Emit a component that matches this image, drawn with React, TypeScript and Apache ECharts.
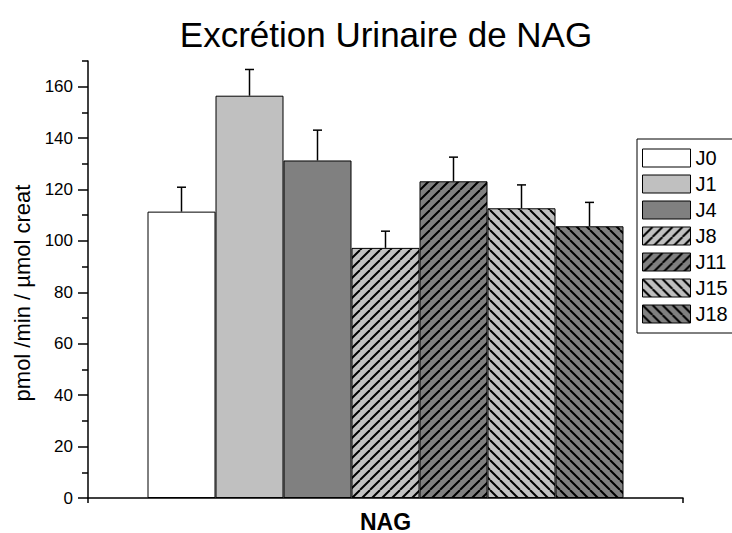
import React, { useEffect, useRef } from "react";
import * as echarts from "echarts";

const titleText = "Excrétion Urinaire de NAG";
const yAxisName = "pmol /min / µmol creat";
const categories = ["NAG"];
const seriesNames = ["J0", "J1", "J4", "J8", "J11", "J15", "J18"];
const means = [111.4, 156.5, 131.3, 97.3, 123.2, 112.7, 105.7];
const errors = [9.5, 10.2, 11.8, 6.5, 9.4, 9.1, 9.3];
const majorTicks = [0, 20, 40, 60, 80, 100, 120, 140, 160];
const minorTicks = [10, 30, 50, 70, 90, 110, 130, 150, 170];
const fillColors = ["#ffffff", "#c0c0c0", "#808080", "#c0c0c0", "#808080", "#c0c0c0", "#808080"];
const hatchDirs = ["", "", "", "/", "/", "\\", "\\"];

const FONT = '"Liberation Sans", Arial, Helvetica, sans-serif';
const CAT_GAP = 0.2;

function makeFill(bg: string, dir: string): any {
  if (!dir) return bg;
  const S = 10;
  const c = document.createElement("canvas");
  c.width = S;
  c.height = S;
  const g = c.getContext("2d")!;
  g.fillStyle = bg;
  g.fillRect(0, 0, S, S);
  g.strokeStyle = "#000";
  g.lineWidth = 2;
  g.beginPath();
  for (const k of [-S, 0, S]) {
    if (dir === "/") {
      g.moveTo(k, S);
      g.lineTo(k + S, 0);
    } else {
      g.moveTo(k, 0);
      g.lineTo(k + S, S);
    }
  }
  g.stroke();
  return { image: c.toDataURL(), imageWidth: S, imageHeight: S, repeat: "repeat" };
}

export default function App() {
  const ref = useRef<HTMLDivElement>(null);
  useEffect(() => {
    if (!ref.current) return;
    const chart = echarts.init(ref.current, null, { renderer: "svg" });
    const n = seriesNames.length;
    const barSeries = seriesNames.map((name, i) => ({
      name,
      type: "bar",
      xAxisIndex: 0,
      yAxisIndex: 0,
      barGap: "0%",
      barCategoryGap: CAT_GAP * 100 + "%",
      data: [means[i]],
      itemStyle: {
        color: makeFill(fillColors[i], hatchDirs[i]),
        borderColor: "#000",
        borderWidth: 1,
      },
      emphasis: { disabled: true },
      z: 2,
    }));
    const errData = seriesNames.map((_, i) => [0, means[i], errors[i], i]);
    const option: any = {
      animation: false,
      backgroundColor: "#ffffff",
      title: {
        text: titleText,
        left: 381,
        top: 12,
        textAlign: "center",
        textStyle: { fontFamily: FONT, fontSize: 35, fontWeight: "normal", color: "#000" },
      },
      legend: {
        orient: "vertical",
        left: 637,
        top: 139,
        data: seriesNames,
        icon: "rect",
        itemWidth: 48,
        itemHeight: 18,
        itemGap: 6,
        padding: [9, 60, 9, 5],
        borderColor: "#000",
        borderWidth: 1,
        backgroundColor: "#fff",
        itemStyle: { borderColor: "#000", borderWidth: 1 },
        textStyle: { fontFamily: FONT, fontSize: 20, color: "#000" },
        selectedMode: false,
      },
      grid: { left: 88, right: 49, top: 61, bottom: 34, containLabel: false },
      xAxis: [
        {
          type: "category",
          data: categories,
          axisLine: { lineStyle: { color: "#000", width: 1.5 } },
          axisTick: { alignWithLabel: true, length: 9, lineStyle: { color: "#000", width: 1.5 } },
          axisLabel: { fontFamily: FONT, fontSize: 23, fontWeight: "bold", color: "#000", margin: 12 },
          splitLine: { show: false },
        },
        {
          type: "value",
          min: 0,
          max: 1,
          interval: 1,
          position: "bottom",
          axisLine: { show: false },
          axisTick: { show: true, length: 5, lineStyle: { color: "#000", width: 1.5 } },
          axisLabel: { show: false },
          splitLine: { show: false },
        },
      ],
      yAxis: [
        {
          type: "value",
          min: 0,
          max: 170,
          interval: 10,
          name: yAxisName,
          nameLocation: "middle",
          nameGap: 54,
          nameTextStyle: { fontFamily: FONT, fontSize: 22, color: "#000", padding: [0, 27, 0, 0] },
          axisLine: { show: true, lineStyle: { color: "#000", width: 1.5 } },
          axisTick: { show: true, length: 10, customValues: majorTicks, lineStyle: { color: "#000", width: 1.5 } },
          axisLabel: { fontFamily: FONT, fontSize: 17, color: "#000", margin: 15, customValues: majorTicks },
          splitLine: { show: false },
        },
        {
          type: "value",
          min: 0,
          max: 170,
          interval: 10,
          position: "left",
          axisLine: { show: false },
          axisTick: { show: true, length: 6, customValues: minorTicks, lineStyle: { color: "#000", width: 1.5 } },
          axisLabel: { show: false },
          splitLine: { show: false },
        },
      ],
      series: [
        ...barSeries,
        {
          type: "custom",
          name: "err",
          xAxisIndex: 0,
          yAxisIndex: 0,
          data: errData,
          z: 5,
          silent: true,
          renderItem: (params: any, api: any) => {
            const mean = api.value(1);
            const err = api.value(2);
            const idx = api.value(3);
            const base = api.coord([0, mean]);
            const top = api.coord([0, mean + err]);
            const band = api.size([1, 0])[0];
            const total = band * (1 - CAT_GAP);
            const bw = total / n;
            const x = base[0] - total / 2 + bw * (idx + 0.5);
            const half = 4.5;
            return {
              type: "group",
              children: [
                { type: "line", shape: { x1: x, y1: base[1], x2: x, y2: top[1] }, style: { stroke: "#000", lineWidth: 1.5 } },
                { type: "line", shape: { x1: x - half, y1: top[1], x2: x + half, y2: top[1] }, style: { stroke: "#000", lineWidth: 1.5 } },
              ],
            };
          },
        },
      ],
    };
    chart.setOption(option);
    return () => chart.dispose();
  }, []);
  return <div ref={ref} style={{ position: "fixed", left: 0, top: 0, width: 732, height: 533 }} />;
}
